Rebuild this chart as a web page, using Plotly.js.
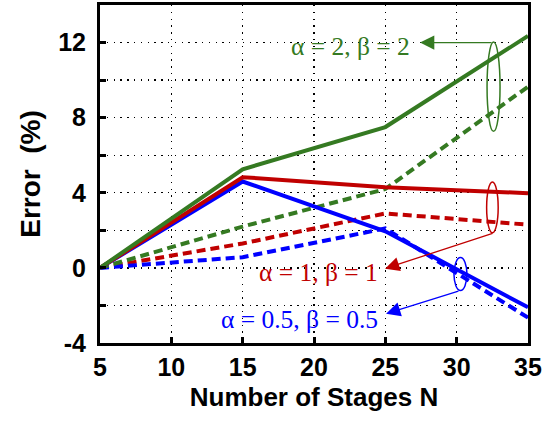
<!DOCTYPE html>
<html><head><meta charset="utf-8">
<script src="https://cdn.plot.ly/plotly-3.0.1.min.js"></script>
<style>html,body{margin:0;padding:0;background:#fff}#c{width:559px;height:422px}</style>
</head><body><div id="c"></div>
<script>
const stages = [5, 15, 25, 35];
const g2Solid = [0, 5.25, 7.5, 12.35];
const g2Dash  = [0, 2.2, 4.2, 9.65];
const r1Solid = [0, 4.83, 4.3, 3.98];
const r1Dash  = [0, 1.3, 2.9, 2.3];
const b05Solid = [0, 4.6, 1.95, -2.1];
const b05Dash  = [0, 0.57, 2.1, -2.65];
const yTickVals = [-4, -2, 0, 2, 4, 6, 8, 10, 12];
const yTickText = ['-4', '', '0', '', '4', '', '8', '', '12'];
const xTickVals = [5, 10, 15, 20, 25, 30, 35];
const labels = ['\u03b1 = 2, \u03b2 = 2', '\u03b1 = 1, \u03b2 = 1', '\u03b1 = 0.5, \u03b2 = 0.5'];

const GREEN = '#357A22', RED = '#C00000', BLUE = '#0000FF';
const DASH = '9px,5px';
function tr(y, color, dash) {
  return {x: stages, y: y, mode: 'lines', line: {color: color, width: 4, dash: dash}, showlegend: false, hoverinfo: 'skip'};
}
const data = [
  tr(r1Dash, RED, DASH), tr(b05Dash, BLUE, DASH), tr(g2Dash, GREEN, DASH),
  tr(b05Solid, BLUE, 'solid'), tr(r1Solid, RED, 'solid'), tr(g2Solid, GREEN, 'solid')
];
const SANS = '"Liberation Sans Narrow", "Arial Narrow", "Liberation Sans", Arial, sans-serif';
const AX_FONT = {family: SANS, size: 25, color: '#000', weight: 'bold'};
const XT_FONT = {family: SANS, size: 26, color: '#000', weight: 'bold'};
const YT_FONT = {family: SANS, size: 28, color: '#000', weight: 'bold'};
const LBL = (c) => ({family: '"Liberation Serif", "Times New Roman", serif', size: 25.5, color: c});
const layout = {
  width: 559, height: 422,
  margin: {l: 100, r: 31, t: 5, b: 79},
  paper_bgcolor: '#fff', plot_bgcolor: '#fff',
  xaxis: {
    range: [5, 35], tickvals: xTickVals, ticks: 'inside', ticklen: 6, tickwidth: 3, tickcolor: '#000',
    showline: true, linewidth: 3, linecolor: '#000', mirror: true,
    showgrid: true, gridcolor: '#000', gridwidth: 1.3, griddash: '1.3px,5.5px', zeroline: false,
    tickfont: AX_FONT, ticklabelstandoff: 0,
    title: {text: 'Number of Stages N', font: XT_FONT, standoff: 8}
  },
  yaxis: {
    range: [-4, 14], tickvals: yTickVals, ticktext: yTickText, ticks: 'inside', ticklen: 6, tickwidth: 3, tickcolor: '#000',
    showline: true, linewidth: 3, linecolor: '#000', mirror: true,
    showgrid: true, gridcolor: '#000', gridwidth: 1.3, griddash: '1.3px,5.5px', zeroline: false,
    tickfont: AX_FONT, ticklabelstandoff: 6,
    title: {text: 'Error\u00a0\u00a0(%)', font: YT_FONT, standoff: 10}
  },
  shapes: [
    {type: 'circle', xref: 'x', yref: 'y', x0: 32.13, x1: 33.04, y0: 7.27, y1: 12.03, line: {color: GREEN, width: 1.5}},
    {type: 'circle', xref: 'x', yref: 'y', x0: 32.1, x1: 32.91, y0: 1.87, y1: 4.57, line: {color: RED, width: 1.5}},
    {type: 'circle', xref: 'x', yref: 'y', x0: 29.81, x1: 30.72, y0: -1.21, y1: 0.55, line: {color: BLUE, width: 1.5}}
  ],
  annotations: [
    {x: 27.43, y: 12.0, ax: 32.55, ay: 12.0, xref: 'x', yref: 'y', axref: 'x', ayref: 'y', text: '', showarrow: true, arrowhead: 2, arrowsize: 2.2, arrowwidth: 1.3, arrowcolor: GREEN, standoff: 0},
    {x: 24.98, y: -0.04, ax: 32.62, ay: 1.87, xref: 'x', yref: 'y', axref: 'x', ayref: 'y', text: '', showarrow: true, arrowhead: 2, arrowsize: 2.2, arrowwidth: 1.3, arrowcolor: RED, standoff: 0},
    {x: 25.05, y: -2.44, ax: 30.23, ay: -1.21, xref: 'x', yref: 'y', axref: 'x', ayref: 'y', text: '', showarrow: true, arrowhead: 2, arrowsize: 2.2, arrowwidth: 1.3, arrowcolor: BLUE, standoff: 0},
    {x: 26.87, y: 11.8, xref: 'x', yref: 'y', text: labels[0], showarrow: false, xanchor: 'right', yanchor: 'middle', font: LBL(GREEN)},
    {x: 24.63, y: -0.25, xref: 'x', yref: 'y', text: labels[1], showarrow: false, xanchor: 'right', yanchor: 'middle', font: LBL(RED)},
    {x: 24.63, y: -2.75, xref: 'x', yref: 'y', text: labels[2], showarrow: false, xanchor: 'right', yanchor: 'middle', font: LBL(BLUE)}
  ]
};
Plotly.newPlot('c', data, layout, {displayModeBar: false, staticPlot: true});
</script></body></html>
